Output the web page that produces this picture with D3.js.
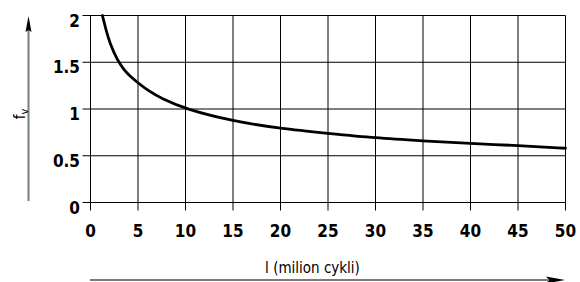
<!DOCTYPE html>
<html>
<head>
<meta charset="utf-8">
<script src="https://cdn.jsdelivr.net/npm/d3@7"></script>
<style>
  body { margin: 0; background: #fff; }
  svg { display: block; }
</style>
</head>
<body>
<div id="chart"></div>
<script>
// values
const cycles = [1.25, 1.6, 2, 2.85, 3.5, 4, 5, 6, 7.5, 10, 15, 20, 25, 30, 35, 40, 45, 50];
const factor = [2.0, 1.86, 1.71, 1.515, 1.425, 1.365, 1.28, 1.2, 1.11, 1.0, 0.87, 0.79, 0.74, 0.69, 0.66, 0.63, 0.61, 0.58];
const xTicks = [0, 5, 10, 15, 20, 25, 30, 35, 40, 45, 50];
const yTicks = [0, 0.5, 1, 1.5, 2];

const width = 580;
const height = 282;

const x = d3.scaleLinear().domain([0, 50]).range([90.5, 565.5]);
const y = d3.scaleLinear().domain([0, 2]).range([202.5, 15.5]);

const svg = d3.select("#chart")
    .append("svg")
    .attr("width", width)
    .attr("height", height);

const font = "'DejaVu Sans Condensed', 'DejaVu Sans', sans-serif";

// grid
svg.append("g")
    .selectAll("line")
    .data(xTicks)
    .join("line")
      .attr("x1", d => x(d)).attr("x2", d => x(d))
      .attr("y1", y(2)).attr("y2", y(0) + 8)
      .attr("stroke", "#000")
      .attr("stroke-width", 1);

svg.append("g")
    .selectAll("line")
    .data(yTicks)
    .join("line")
      .attr("x1", x(0) - 8).attr("x2", x(50))
      .attr("y1", d => y(d)).attr("y2", d => y(d))
      .attr("stroke", "#000")
      .attr("stroke-width", 1);

// tick labels
svg.append("g")
    .attr("font-family", font)
    .attr("font-weight", "bold")
    .attr("font-size", 17)
    .attr("text-anchor", "middle")
  .selectAll("text")
  .data(xTicks)
  .join("text")
    .attr("x", d => x(d))
    .attr("y", 237)
    .text(d => d);

svg.append("g")
    .attr("font-family", font)
    .attr("font-weight", "bold")
    .attr("font-size", 17)
    .attr("text-anchor", "end")
  .selectAll("text")
  .data(yTicks)
  .join("text")
    .attr("x", 80)
    .attr("y", d => y(d) + 11)
    .text(d => d);

// curve
const line = d3.line()
    .curve(d3.curveBasis)
    .x((d, i) => x(cycles[i]))
    .y(d => y(d));

svg.append("path")
    .datum(factor)
    .attr("fill", "none")
    .attr("stroke", "#000")
    .attr("stroke-width", 2.8)
    .attr("stroke-linecap", "round")
    .attr("d", line);

// axis arrows
svg.append("line")
    .attr("x1", 28.5).attr("x2", 28.5)
    .attr("y1", 201).attr("y2", 30)
    .attr("stroke", "#7a7a7a")
    .attr("stroke-width", 2);
svg.append("path")
    .attr("d", "M28.5,16 L31.5,32 L28.5,30 L25.5,32 Z")
    .attr("fill", "#000");

svg.append("line")
    .attr("x1", 90).attr("x2", 548)
    .attr("y1", 280).attr("y2", 280)
    .attr("stroke", "#7a7a7a")
    .attr("stroke-width", 2);
svg.append("path")
    .attr("d", "M565,280 L546,276.5 L549,280 L546,283.5 Z")
    .attr("fill", "#000");

// axis titles
svg.append("text")
    .attr("x", 312.5)
    .attr("y", 273)
    .attr("text-anchor", "middle")
    .attr("font-family", font)
    .attr("font-size", 15)
    .text("l (milion cykli)");

const fv = svg.append("text")
    .attr("transform", "translate(25,114) rotate(-90)")
    .attr("text-anchor", "middle")
    .attr("font-family", font)
    .attr("font-size", 15);
fv.append("tspan").text("f");
fv.append("tspan").attr("font-size", 11).attr("dy", 3).text("v");
</script>
</body>
</html>
